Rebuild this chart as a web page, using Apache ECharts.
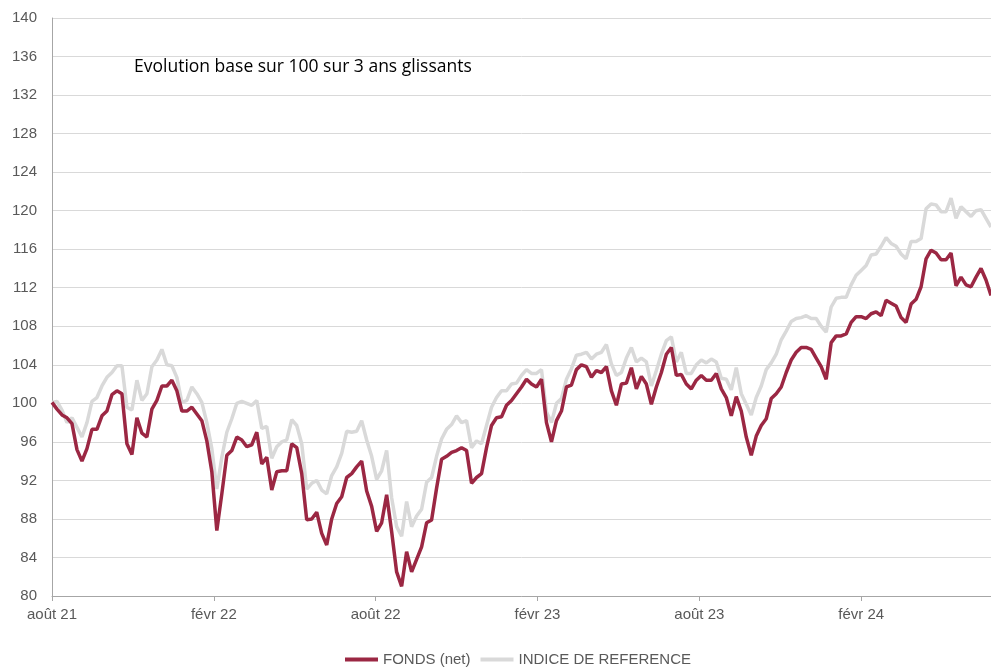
<!DOCTYPE html>
<html><head><meta charset="utf-8">
<script src="https://cdn.jsdelivr.net/npm/echarts@6/dist/echarts.min.js"></script>
<style>html,body{margin:0;padding:0;background:#fff}#c{width:991px;height:668px}</style>
</head><body><div id="c"></div>
<script>
// x tick labels (every 6 months, starting August 2021)
const tickLabels = ['août 21', 'févr 22', 'août 22', 'févr 23', 'août 23', 'févr 24'];
// sampling step of the series, in months (≈ 5.6 days)
const STEP_MONTHS = 5 / 27;
const seriesNames = ['FONDS (net)', 'INDICE DE REFERENCE'];

const fonds = [
100.1,99.4,98.8,98.5,97.9,95.2,94.0,95.3,97.3,97.3,
98.7,99.2,100.9,101.3,101.0,95.8,94.7,98.5,96.9,96.5,
99.4,100.3,101.8,101.8,102.4,101.3,99.2,99.2,99.6,98.9,
98.2,96.1,92.9,86.8,90.6,94.6,95.1,96.5,96.2,95.5,
95.7,97.0,93.7,94.4,91.0,92.9,93.0,93.0,95.8,95.4,
92.7,87.9,88.0,88.7,86.5,85.3,88.0,89.6,90.3,92.3,
92.7,93.4,94.0,90.9,89.3,86.7,87.6,90.5,86.7,82.5,
81.0,84.6,82.5,83.8,85.1,87.6,87.9,91.2,94.2,94.5,
94.9,95.1,95.4,95.1,91.7,92.3,92.7,95.4,97.7,98.5,
98.6,99.8,100.3,101.0,101.7,102.5,102.0,101.7,102.5,98.0,
96.0,98.2,99.2,101.7,101.9,103.5,104.0,103.8,102.7,103.4,
103.2,103.8,101.3,99.8,102.0,102.1,103.7,101.5,102.8,102.0,
99.9,101.7,103.2,105.1,105.8,102.9,103.0,102.0,101.5,102.4,
102.9,102.4,102.4,103.1,101.5,100.6,98.7,100.7,99.2,96.5,
94.6,96.6,97.7,98.4,100.5,101.0,101.7,103.2,104.5,105.3,
105.8,105.8,105.6,104.7,103.8,102.5,106.3,107.0,107.0,107.2,
108.4,109.0,109.0,108.8,109.3,109.5,109.1,110.7,110.4,110.1,
108.9,108.4,110.3,110.8,112.1,115.0,115.9,115.6,114.9,114.9,
115.6,112.2,113.1,112.3,112.1,113.1,114.0,112.8,111.2
];

const indice = [
100.1,100.2,99.3,98.0,98.5,97.5,96.5,98.0,100.2,100.6,
101.8,102.7,103.2,103.9,103.9,99.6,99.3,102.4,100.3,101.0,
103.8,104.5,105.6,104.0,103.9,102.7,100.1,100.3,101.7,101.0,
100.1,98.0,95.3,91.1,94.4,97.0,98.4,100.0,100.2,100.0,
99.8,100.3,97.4,97.6,94.3,95.5,96.0,96.2,98.3,97.7,
95.8,91.1,91.7,92.0,91.0,90.6,92.5,93.4,94.8,97.1,
97.0,97.1,98.2,96.2,94.5,92.1,93.0,95.1,90.2,87.2,
86.2,89.8,87.2,88.3,89.0,91.8,92.3,94.5,96.3,97.3,
97.8,98.7,98.0,98.2,95.4,96.1,95.8,97.7,99.6,100.6,
101.3,101.3,102.0,102.1,102.9,103.5,103.1,103.1,103.5,99.1,
98.0,100.0,100.5,102.5,103.6,105.0,105.1,105.3,104.6,105.1,
105.3,106.1,104.1,102.9,103.2,104.7,105.8,104.3,104.7,104.3,
101.8,103.4,105.1,106.5,106.9,104.3,105.3,103.1,103.1,104.0,
104.5,104.2,104.6,104.3,102.6,102.5,101.4,103.7,101.0,99.9,
98.8,100.6,101.8,103.5,104.2,105.1,106.6,107.5,108.5,108.8,
108.9,109.1,108.8,108.8,108.0,107.4,110.0,110.9,111.0,111.0,
112.3,113.3,113.8,114.3,115.4,115.5,116.3,117.2,116.6,116.3,
115.5,115.0,116.8,116.8,117.1,120.2,120.7,120.6,119.9,119.9,
121.3,119.2,120.4,119.9,119.4,120.0,120.1,119.2,118.3
];

const toPairs = arr => arr.map((v, i) => [i * STEP_MONTHS, v]);
const xMax = (fonds.length - 1) * STEP_MONTHS;

const chart = echarts.init(document.getElementById('c'), null, {renderer: 'canvas'});
const labelColor = '#595959';
const font = 'Arial, "Liberation Sans", sans-serif';

chart.setOption({
  animation: false,
  backgroundColor: '#ffffff',
  title: {
    text: 'Evolution base sur 100 sur 3 ans glissants',
    left: 134, top: 58, padding: 0,
    textStyle: {fontSize: 17.5, fontWeight: 'normal', color: '#000', fontFamily: '"Open Sans", Arial, sans-serif'}
  },
  legend: {
    data: seriesNames,
    left: 345, top: 652, padding: 0,
    icon: 'rect', itemWidth: 33, itemHeight: 4, itemGap: 10,
    textStyle: {fontSize: 15, color: labelColor, fontFamily: font}
  },
  grid: {left: 52, right: 0, top: 18, bottom: 72, containLabel: false},
  xAxis: {
    type: 'value', min: 0, max: xMax, interval: 6,
    axisLine: {show: true, lineStyle: {color: '#a6a6a6', width: 1}},
    axisTick: {show: true, length: 5, lineStyle: {color: '#a6a6a6'}},
    splitLine: {show: false},
    axisLabel: {
      color: labelColor, fontSize: 15, fontFamily: font, margin: 11,
      showMaxLabel: false,
      formatter: v => {
        const k = Math.round(v / 6);
        return Math.abs(v - k * 6) < 1e-6 && tickLabels[k] ? tickLabels[k] : '';
      }
    }
  },
  yAxis: {
    type: 'value', min: 80, max: 140, interval: 4,
    axisLine: {show: true, lineStyle: {color: '#a6a6a6', width: 1}},
    axisTick: {show: false},
    splitLine: {show: true, lineStyle: {color: '#d9d9d9', width: 1}},
    axisLabel: {color: labelColor, fontSize: 15, fontFamily: font, margin: 15}
  },
  series: [
    {
      name: seriesNames[1], type: 'line', data: toPairs(indice),
      showSymbol: false, smooth: false, z: 2,
      lineStyle: {color: '#d9d9d9', width: 3.5},
      itemStyle: {color: '#d9d9d9'}
    },
    {
      name: seriesNames[0], type: 'line', data: toPairs(fonds),
      showSymbol: false, smooth: false, z: 3,
      lineStyle: {color: '#9b2743', width: 3.5},
      itemStyle: {color: '#9b2743'}
    }
  ]
});
</script>
</body></html>
